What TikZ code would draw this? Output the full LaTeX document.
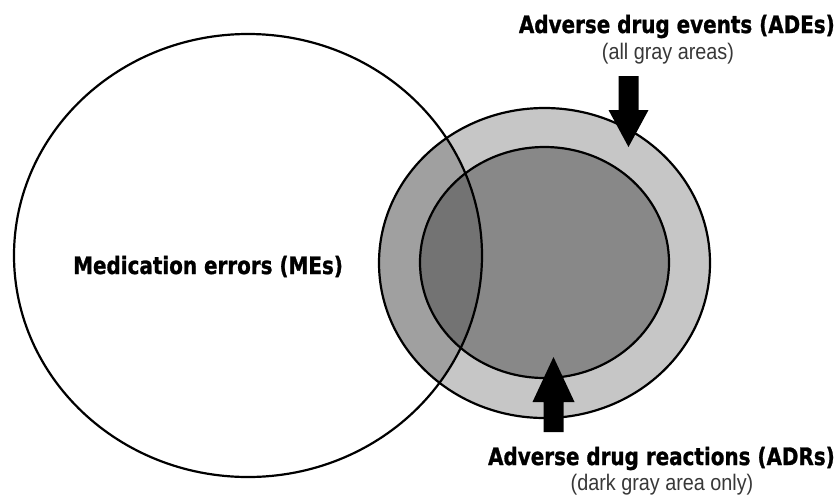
\documentclass[tikz,border=0pt]{standalone}
\usepackage{fontspec}
\setmainfont{Liberation Sans}
\newfontfamily\dvsans{DejaVu Sans}[BoldFeatures={FakeBold=1.2}]
\definecolor{ringlight}{HTML}{C6C6C6}
\definecolor{ringmid}{HTML}{A0A0A0}
\definecolor{coregray}{HTML}{888888}
\definecolor{coredark}{HTML}{737373}
\tikzset{
  outline/.style={draw=black, line width=2.2pt},
  titletext/.style={font=\dvsans\bfseries\fontsize{24}{28}\selectfont, inner sep=0pt},
  subtext/.style={font=\fontsize{22.5}{26}\selectfont, text=black!78, inner sep=0pt},
  blockarrow/.style={fill=black}
}
\begin{document}
\begin{tikzpicture}[x=1pt,y=-1pt]
\useasboundingbox (0,0) rectangle (840,496);
\fill[white] (0,0) rectangle (840,496);
% centres
\coordinate (me) at (248,255.5);
\coordinate (ade) at (544.5,263);
\coordinate (adr) at (544.5,262.5);
% fills
\fill[ringlight] (ade) ellipse [x radius=165.5pt, y radius=155pt];
\fill[coregray] (adr) ellipse [x radius=124.5pt, y radius=115.5pt];
\begin{scope}
  \clip (me) ellipse [x radius=234pt, y radius=221.5pt];
  \fill[ringmid] (ade) ellipse [x radius=165.5pt, y radius=155pt];
  \fill[coredark] (adr) ellipse [x radius=124.5pt, y radius=115.5pt];
\end{scope}
% outlines
\draw[outline] (me) ellipse [x radius=234pt, y radius=221.5pt];
\draw[outline] (ade) ellipse [x radius=165.5pt, y radius=155pt];
\draw[outline] (adr) ellipse [x radius=124.5pt, y radius=115.5pt];
% texts
\node[titletext, anchor=base west] (metext) at (73,274) {\scalebox{0.83}[1]{Medication errors (MEs)}};
\node[titletext, anchor=base east] (adetitle) at (835,33) {\scalebox{0.83}[1]{Adverse drug events (ADEs)}};
\node[subtext, anchor=base] (adesub) at (668,59.5) {\scalebox{0.88}[1]{(all gray areas)}};
\node[titletext, anchor=base east] (adrtitle) at (835,465) {\scalebox{0.83}[1]{Adverse drug reactions (ADRs)}};
\node[subtext, anchor=base] (adrsub) at (662,490.5) {\scalebox{0.88}[1]{(dark gray area only)}};
% arrows
\fill[blockarrow] (618.5,76) -- (638.5,76) -- (638.5,110) -- (648.5,110) -- (628.5,147) -- (608.5,110) -- (618.5,110) -- cycle;
\fill[blockarrow] (543.5,432) -- (563.5,432) -- (563.5,402) -- (574.5,402) -- (553.5,357) -- (532.5,402) -- (543.5,402) -- cycle;
\end{tikzpicture}
\end{document}
